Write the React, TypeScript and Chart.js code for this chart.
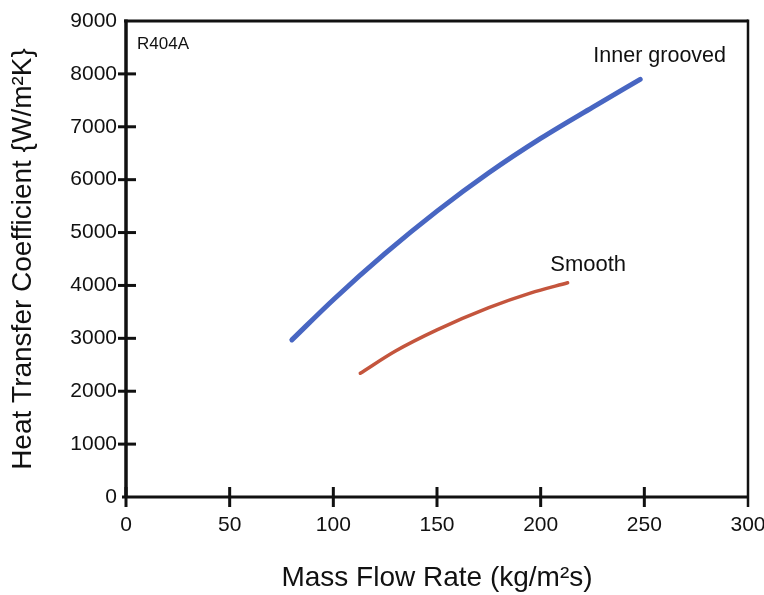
import React, { useEffect, useRef } from "react";
import { Chart, registerables } from "chart.js";

Chart.register(...registerables);

const innerX = [80, 100, 125, 150, 175, 200, 225, 248];
const innerY = [2970, 3730, 4605, 5405, 6130, 6780, 7368, 7897];
const smoothX = [113, 130, 150, 175, 195, 213];
const smoothY = [2340, 2760, 3160, 3580, 3855, 4050];

const xTicks = [0, 50, 100, 150, 200, 250, 300];
const yTicks = [0, 1000, 2000, 3000, 4000, 5000, 6000, 7000, 8000, 9000];

const labels = [
  { text: "R404A", x: 5.3, y: 8560, size: 17 },
  { text: "Inner grooved", x: 225.4, y: 8330, size: 21.5 },
  { text: "Smooth", x: 204.6, y: 4390, size: 22 },
];

const FONT = "'Liberation Sans', Arial, sans-serif";
const INK = "#111111";

const framePlugin = {
  id: "frame",
  afterDraw(chart: any) {
    const { ctx, chartArea } = chart;
    const { left, right, top, bottom } = chartArea;
    const xs = chart.scales.x;
    const ys = chart.scales.y;
    ctx.save();
    ctx.strokeStyle = INK;
    ctx.lineCap = "butt";
    ctx.lineWidth = 3.5;
    ctx.beginPath();
    ctx.moveTo(left, top - 1.5);
    ctx.lineTo(left, bottom);
    ctx.stroke();
    ctx.lineWidth = 3;
    ctx.beginPath();
    ctx.moveTo(left - 4, bottom);
    ctx.lineTo(right, bottom);
    ctx.stroke();
    ctx.beginPath();
    ctx.moveTo(left - 2, top);
    ctx.lineTo(right, top);
    ctx.stroke();
    ctx.lineWidth = 2.5;
    ctx.beginPath();
    ctx.moveTo(right, top - 1.5);
    ctx.lineTo(right, bottom + 10);
    ctx.stroke();
    ctx.lineWidth = 3;
    xTicks.forEach((v) => {
      if (v === 300) return;
      const px = xs.getPixelForValue(v);
      ctx.beginPath();
      ctx.moveTo(px, bottom - 10);
      ctx.lineTo(px, bottom + 10);
      ctx.stroke();
    });
    yTicks.forEach((v) => {
      if (v === 0 || v === 9000) return;
      const py = ys.getPixelForValue(v);
      ctx.beginPath();
      ctx.moveTo(left - 8, py);
      ctx.lineTo(left + 10, py);
      ctx.stroke();
    });
    ctx.fillStyle = INK;
    ctx.textAlign = "left";
    ctx.textBaseline = "middle";
    labels.forEach((l) => {
      ctx.font = `${l.size}px ${FONT}`;
      ctx.fillText(l.text, xs.getPixelForValue(l.x), ys.getPixelForValue(l.y));
    });
    ctx.restore();
  },
};

export default function App() {
  const ref = useRef<HTMLCanvasElement>(null);
  useEffect(() => {
    if (!ref.current) return;
    const chart = new Chart(ref.current, {
      type: "line",
      data: {
        datasets: [
          {
            label: "Inner grooved",
            data: innerX.map((x, i) => ({ x, y: innerY[i] })),
            borderColor: "#4866c2",
            borderWidth: 5,
            pointRadius: 0,
            cubicInterpolationMode: "monotone",
            borderCapStyle: "round",
            fill: false,
          },
          {
            label: "Smooth",
            data: smoothX.map((x, i) => ({ x, y: smoothY[i] })),
            borderColor: "#c4553d",
            borderWidth: 3.5,
            pointRadius: 0,
            cubicInterpolationMode: "monotone",
            borderCapStyle: "round",
            fill: false,
          },
        ],
      },
      options: {
        animation: false,
        responsive: false,
        maintainAspectRatio: false,
        devicePixelRatio: 1,
        layout: { padding: { top: 21, right: 16, left: 0, bottom: 0 } },
        plugins: {
          legend: { display: false },
          tooltip: { enabled: false },
        },
        scales: {
          x: {
            type: "linear",
            min: 0,
            max: 300,
            afterBuildTicks: (s: any) => {
              s.ticks = xTicks.map((v) => ({ value: v }));
            },
            afterFit: (s: any) => {
              s.height = 98;
              s.paddingLeft = 0;
              s.paddingRight = 0;
            },
            grid: { display: false, drawTicks: false },
            border: { display: false },
            ticks: {
              padding: 16,
              color: INK,
              font: { family: FONT, size: 21 },
              maxRotation: 0,
              callback: (v: any) => String(v),
            },
            title: {
              display: true,
              text: "Mass Flow Rate (kg/m²s)",
              color: INK,
              font: { family: FONT, size: 28 },
              padding: { top: 0, bottom: 0 },
            },
          },
          y: {
            type: "linear",
            min: 0,
            max: 9000,
            afterBuildTicks: (s: any) => {
              s.ticks = yTicks.map((v) => ({ value: v }));
            },
            afterFit: (s: any) => {
              s.width = 126;
              s.paddingTop = 0;
              s.paddingBottom = 0;
            },
            grid: { display: false, drawTicks: false },
            border: { display: false },
            ticks: {
              padding: 9,
              color: INK,
              font: { family: FONT, size: 21 },
              callback: (v: any) => String(v),
            },
            title: {
              display: true,
              text: "Heat Transfer Coefficient {W/m²K}",
              color: INK,
              font: { family: FONT, size: 28 },
              padding: { top: 6, bottom: 0 },
            },
          },
        },
      },
      plugins: [framePlugin],
    });
    return () => chart.destroy();
  }, []);
  return (
    <div style={{ position: "fixed", left: 0, top: 0, width: 764, height: 595, background: "#fff" }}>
      <canvas ref={ref} width={764} height={595} />
    </div>
  );
}
